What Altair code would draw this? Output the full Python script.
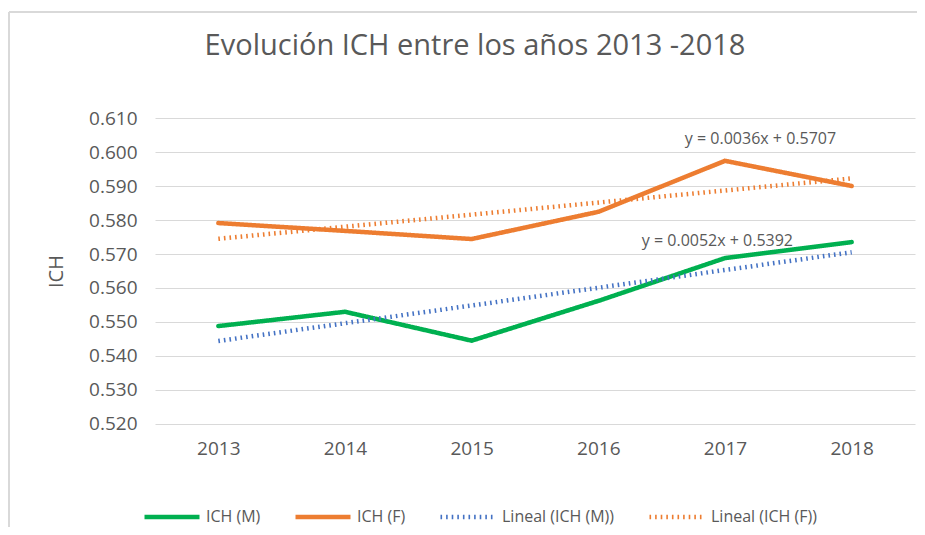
import altair as alt
import pandas as pd

years = [2013, 2014, 2015, 2016, 2017, 2018]
ich_m = [0.5488, 0.5530, 0.5445, 0.5562, 0.5688, 0.5735]
ich_f = [0.5791, 0.5768, 0.5744, 0.5824, 0.5974, 0.5900]

series_names = ["ICH (M)", "ICH (F)", "Lineal (ICH (M))", "Lineal (ICH (F))"]
series_colors = ["#00B050", "#ED7D31", "#4472C4", "#ED7D31"]
series_dash = [[1, 0], [1, 0], [1.6, 4.0], [1.6, 4.0]]
series_width = [4.5, 4.5, 1.6, 1.6]

eq_text = ["y = 0.0036x + 0.5707", "y = 0.0052x + 0.5392"]
eq_year = [2017.28, 2016.94]
eq_value = [0.6038, 0.5738]

y_ticks = [0.52, 0.53, 0.54, 0.55, 0.56, 0.57, 0.58, 0.59, 0.60, 0.61]

rows = []
for y, m, f in zip(years, ich_m, ich_f):
    rows.append({"year": y, "value": m, "serie": "ICH (M)"})
    rows.append({"year": y, "value": f, "serie": "ICH (F)"})
df = pd.DataFrame(rows)
eq_df = pd.DataFrame({"year": eq_year, "value": eq_value, "text": eq_text})

FONT = "Open Sans"
GRAY = "#595959"

x_enc = alt.X("year:Q", scale=alt.Scale(domain=[2012.5, 2018.5], nice=False, zero=False),
              axis=alt.Axis(values=years, format="d", title=None, grid=False, domain=False,
                            ticks=False, labelFontSize=19, labelColor=GRAY, labelFont=FONT,
                            labelPadding=15, labelOverlap=False, tickCount=12))
y_enc = alt.Y("value:Q", scale=alt.Scale(domain=[0.5199999, 0.6100001], nice=False, zero=False),
              axis=alt.Axis(values=y_ticks, format=".3f", title="ICH", grid=True,
                            gridColor="#D9D9D9", gridWidth=1, domain=False, ticks=False,
                            labelFontSize=19, labelColor=GRAY, labelFont=FONT, labelPadding=18,
                            labelOverlap=False, tickCount=20,
                            titleFontSize=20, titleFont=FONT, titleColor=GRAY,
                            titleFontWeight="normal", titlePadding=22))

color_enc = alt.Color("serie:N", scale=alt.Scale(domain=series_names, range=series_colors),
                      legend=alt.Legend(title=None, orient="none", legendX=-13, legendY=369,
                                        direction="horizontal", columns=4, symbolType="stroke",
                                        symbolSize=3025, labelFontSize=16, labelFont=FONT,
                                        labelColor=GRAY, columnPadding=25, labelOffset=4))
dash_enc = alt.StrokeDash("serie:N", scale=alt.Scale(domain=series_names, range=series_dash),
                          legend=None)
width_enc = alt.StrokeWidth("serie:N", scale=alt.Scale(domain=series_names, range=series_width),
                            legend=None)

lines = alt.Chart(df).mark_line(strokeCap="round").encode(
    x=x_enc, y=y_enc, color=color_enc, strokeDash=dash_enc, strokeWidth=width_enc,
    detail="serie:N")

trend = alt.Chart(df).transform_regression(
    "year", "value", groupby=["serie"]
).transform_calculate(
    serie="'Lineal (' + datum.serie + ')'"
).mark_line(strokeCap="butt").encode(
    x=x_enc, y=y_enc, color=color_enc, strokeDash=dash_enc, strokeWidth=width_enc)

eqs = alt.Chart(eq_df).mark_text(font=FONT, fontSize=16, color=GRAY).encode(
    x="year:Q", y="value:Q", text="text:N")

border = alt.Chart(pd.DataFrame({"a": [0]})).mark_rule(color="#D9D9D9", strokeWidth=2).encode(
    x=alt.value(-146), y=alt.value(-106), y2=alt.value(420))
border_top = alt.Chart(pd.DataFrame({"a": [0]})).mark_rule(color="#D9D9D9", strokeWidth=2).encode(
    x=alt.value(-146), x2=alt.value(770), y=alt.value(-106))

chart = alt.layer(border, border_top, lines, trend, eqs).properties(
    width=760, height=306,
    title=alt.TitleParams("Evolución ICH entre los años 2013 -2018", font=FONT, fontSize=29,
                          fontWeight="normal", color=GRAY, anchor="middle", dx=-60, offset=-50),
    autosize=alt.AutoSizeParams(type="none"),
    padding={"left": 147, "top": 110, "right": 2, "bottom": 103},
).configure_view(stroke=None)

chart.save("out.html", embed_options={"renderer": "svg", "actions": False})
